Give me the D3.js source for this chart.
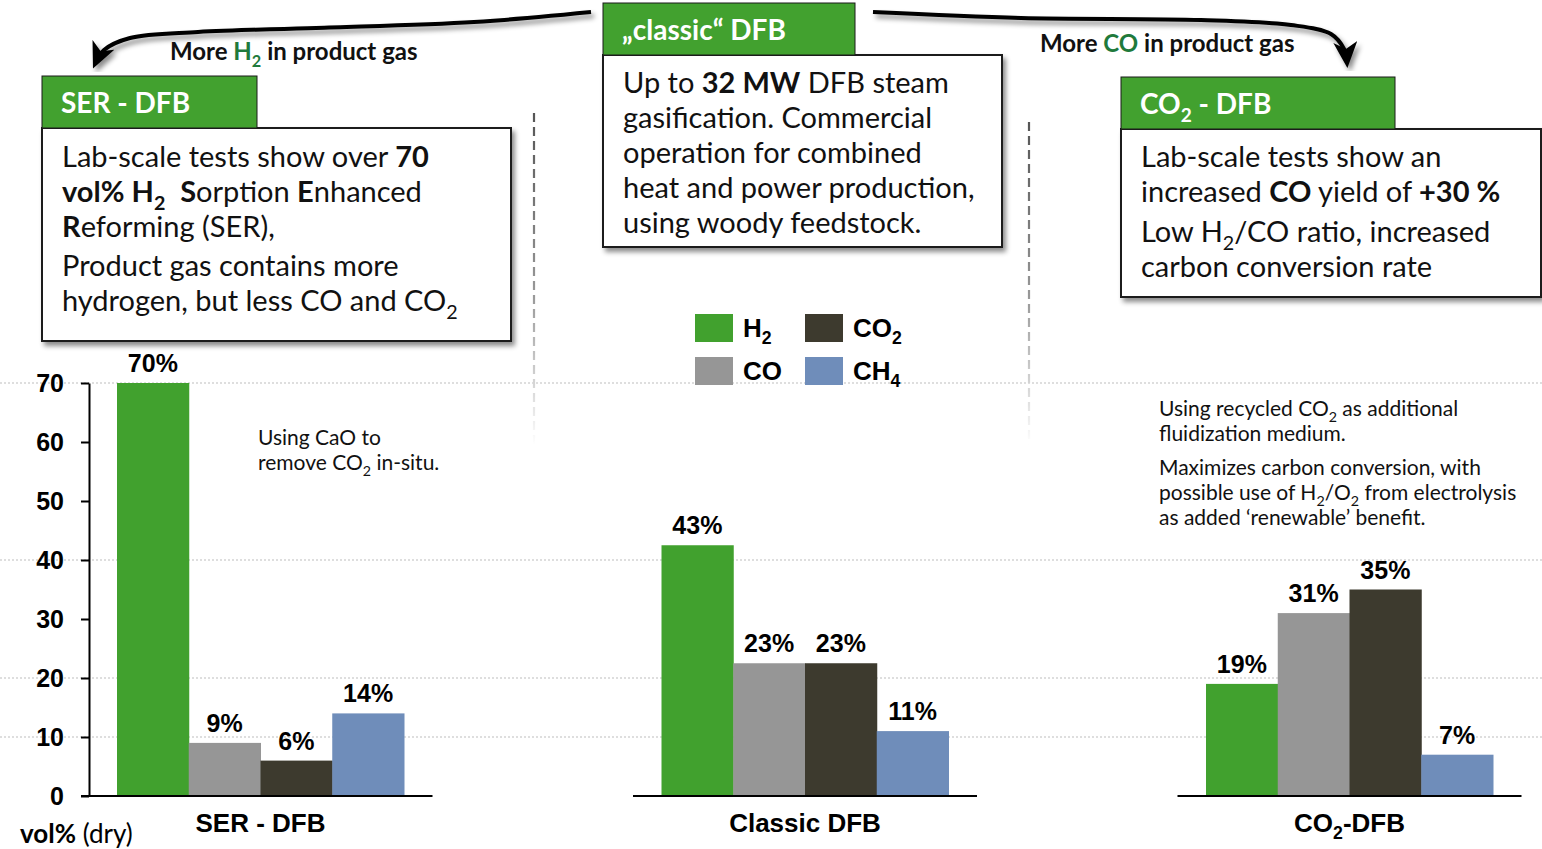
<!DOCTYPE html>
<html>
<head>
<meta charset="utf-8">
<script src="https://cdn.jsdelivr.net/npm/d3@7"></script>
<style>
body { margin: 0; background: #fff; }
svg { display: block; }
text { white-space: pre; }
</style>
</head>
<body>
<svg id="chart" width="1542" height="849"></svg>
<script>
// data
const gases = ["H2", "CO", "CO2", "CH4"];
const gasLabels = ["H_2", "CO", "CO_2", "CH_4"];
const gasColors = ["#41a12e", "#969696", "#3d3a2e", "#6f8dba"];
const processes = ["SER - DFB", "Classic DFB", "CO_2-DFB"];
const serValues = [70, 9, 6, 14];
const classicValues = [42.5, 22.5, 22.5, 11];
const co2Values = [19, 31, 35, 7];
const yTicks = [0, 10, 20, 30, 40, 50, 60, 70];
const gridValues = [10, 20, 40, 70];

const seriesByProcess = [serValues, classicValues, co2Values];

const svg = d3.select("#chart");
const W = 1542;
const sansBold = "'Liberation Sans', Arial, sans-serif";
const lato = "Lato, 'Open Sans', sans-serif";
const headerGreen = "#42a12f";

// mini markup: ** toggles bold, ~~ toggles green, _2 is a subscript
function rich(textSel, str, fs) {
    let bold = false, green = false, shift = 0;
    str.split(/(\*\*|~~|_\d)/).forEach(tok => {
        if (!tok) return;
        if (tok === "**") { bold = !bold; return; }
        if (tok === "~~") { green = !green; return; }
        const sub = /^_\d$/.test(tok);
        const ts = textSel.append("tspan").text(sub ? tok[1] : tok);
        const target = sub ? fs * 0.28 : 0;
        if (target !== shift) { ts.attr("dy", target - shift); shift = target; }
        if (sub) ts.attr("font-size", fs * 0.68);
        if (bold) ts.attr("font-weight", "bold");
        if (green) ts.attr("fill", "#1f7a3c");
    });
    return textSel;
}

const defs = svg.append("defs");
const shadow = defs.append("filter").attr("id", "shadow")
    .attr("x", "-5%").attr("y", "-5%").attr("width", "115%").attr("height", "120%");
shadow.append("feDropShadow").attr("dx", 3).attr("dy", 4)
    .attr("stdDeviation", 2.5).attr("flood-color", "#000").attr("flood-opacity", 0.45);

const fade = defs.append("linearGradient").attr("id", "fade")
    .attr("x1", 0).attr("y1", 0).attr("x2", 0).attr("y2", 1);
fade.append("stop").attr("offset", "0%").attr("stop-color", "#555");
fade.append("stop").attr("offset", "55%").attr("stop-color", "#999");
fade.append("stop").attr("offset", "100%").attr("stop-color", "#fff");

defs.append("marker").attr("id", "arrowhead")
    .attr("markerUnits", "userSpaceOnUse")
    .attr("viewBox", "0 0 26 24")
    .attr("markerWidth", 26).attr("markerHeight", 24)
    .attr("refX", 21).attr("refY", 12)
    .attr("orient", "auto")
    .append("path").attr("d", "M0,0 L26,12 L0,24 L7,12 Z").attr("fill", "#000");

// scales
const y = d3.scaleLinear().domain([0, 70]).range([796, 383]);
const x = d3.scalePoint().domain(processes).range([260.5, 1349.5]);
const xg = d3.scaleBand().domain(gases).range([-143.5, 143.5]);

// dotted gridlines
svg.append("g").selectAll("line").data(gridValues).join("line")
    .attr("x1", 0).attr("x2", W)
    .attr("y1", d => y(d)).attr("y2", d => y(d))
    .attr("stroke", "#bdbdbd").attr("stroke-width", 1)
    .attr("stroke-dasharray", "2,2");

// fading dashed separators
svg.append("g").selectAll("line").data([[534, 113], [1029, 122]]).join("line")
    .attr("x1", d => d[0]).attr("x2", d => d[0] + 0.01)
    .attr("y1", d => d[1]).attr("y2", 445)
    .attr("stroke", "url(#fade)").attr("stroke-width", 2.2)
    .attr("stroke-dasharray", "9,5");

// bars
const groups = svg.append("g").selectAll("g").data(processes).join("g")
    .attr("transform", d => `translate(${x(d)},0)`);

groups.each(function (p, i) {
    const g = d3.select(this);
    const vals = seriesByProcess[i];
    g.selectAll("rect").data(vals).join("rect")
        .attr("x", (d, j) => xg(gases[j]))
        .attr("width", xg.bandwidth() + 0.5)
        .attr("y", d => y(d))
        .attr("height", d => y(0) - y(d))
        .attr("fill", (d, j) => gasColors[j]);
    g.selectAll("text.val").data(vals).join("text")
        .attr("class", "val")
        .attr("x", (d, j) => xg(gases[j]) + xg.bandwidth() / 2)
        .attr("y", d => y(d) - 11)
        .attr("text-anchor", "middle")
        .attr("font-family", sansBold).attr("font-weight", "bold")
        .attr("font-size", 25).attr("fill", "#000")
        .text(d => Math.round(d) + "%");
    // baseline of each group
    const left = i === 0 ? 81 - x(p) : -172;
    g.append("line")
        .attr("x1", left).attr("x2", 172)
        .attr("y1", y(0)).attr("y2", y(0))
        .attr("stroke", "#000").attr("stroke-width", 2);
    rich(g.append("text")
        .attr("x", 0).attr("y", 832)
        .attr("text-anchor", "middle")
        .attr("font-family", sansBold).attr("font-weight", "bold")
        .attr("font-size", 26).attr("fill", "#000"), p, 26);
});

// y axis
const yAxis = svg.append("g")
    .attr("transform", "translate(89,0)")
    .call(d3.axisLeft(y).tickValues(yTicks).tickSize(8).tickSizeOuter(0).tickPadding(17));
yAxis.select(".domain").attr("stroke", "#000").attr("stroke-width", 2);
yAxis.selectAll(".tick line").attr("stroke", "#000").attr("stroke-width", 2);
yAxis.selectAll(".tick text")
    .attr("font-family", sansBold).attr("font-weight", "bold")
    .attr("font-size", 25).attr("fill", "#000");

rich(svg.append("text").attr("x", 20).attr("y", 843)
    .attr("font-family", lato).attr("font-size", 26).attr("fill", "#000"),
    "**vol%** (dry)", 26);

// legend
const legendPos = [[695, 314], [695, 357], [805, 314], [805, 357]];
const legend = svg.append("g").selectAll("g").data(gases).join("g")
    .attr("transform", (d, i) => `translate(${legendPos[i][0]},${legendPos[i][1]})`);
legend.append("rect").attr("width", 38).attr("height", 28)
    .attr("fill", (d, i) => gasColors[i]);
legend.each(function (d, i) {
    rich(d3.select(this).append("text").attr("x", 48).attr("y", 23)
        .attr("font-family", sansBold).attr("font-weight", "bold")
        .attr("font-size", 26).attr("fill", "#000"), gasLabels[i], 26);
});

// info boxes
const boxes = [
    { header: "SER - DFB", hx: 42, hy: 76, hw: 215, bx: 42, by: 128, bw: 469, bh: 213,
      lines: ["Lab-scale tests show over **70**",
              "**vol% H_2**  **S**orption **E**nhanced",
              "**R**eforming (SER),",
              "Product gas contains more",
              "hydrogen, but less CO and CO_2"],
      ys: [167, 202, 237, 276, 311] },
    { header: "\u201Eclassic\u201C DFB", hx: 603, hy: 3, hw: 252, bx: 603, by: 55, bw: 399, bh: 192,
      lines: ["Up to **32 MW** DFB steam",
              "gasification. Commercial",
              "operation for combined",
              "heat and power production,",
              "using woody feedstock."],
      ys: [93, 128, 163, 198, 233] },
    { header: "CO_2 - DFB", hx: 1121, hy: 77, hw: 274, bx: 1121, by: 129, bw: 420, bh: 168,
      lines: ["Lab-scale tests show an",
              "increased **CO** yield of **+30 %**",
              "Low H_2/CO ratio, increased",
              "carbon conversion rate"],
      ys: [167, 202, 242, 277] }
];

boxes.forEach(b => {
    svg.append("rect")
        .attr("x", b.bx).attr("y", b.by).attr("width", b.bw).attr("height", b.bh)
        .attr("fill", "#fff").attr("stroke", "#1a1a1a").attr("stroke-width", 2)
        .attr("filter", "url(#shadow)");
    svg.append("rect")
        .attr("x", b.hx).attr("y", b.hy).attr("width", b.hw).attr("height", b.by - b.hy)
        .attr("fill", headerGreen).attr("stroke", "#1a1a1a").attr("stroke-width", 1);
    rich(svg.append("text")
        .attr("x", b.hx + 19).attr("y", b.hy + 37)
        .attr("font-family", lato).attr("font-weight", "bold")
        .attr("font-size", 28).attr("fill", "#fff"), b.header, 28);
    b.lines.forEach((l, i) => {
        rich(svg.append("text")
            .attr("x", b.bx + 20).attr("y", b.ys[i])
            .attr("font-family", lato).attr("font-size", 29).attr("fill", "#111"), l, 29);
    });
});

// side notes
const notes = [
    { x: 258, lines: ["Using CaO to", "remove CO_2 in-situ."], ys: [445, 470] },
    { x: 1159, lines: ["Using recycled CO_2 as additional", "fluidization medium.",
                       "Maximizes carbon conversion, with",
                       "possible use of H_2/O_2 from electrolysis",
                       "as added \u2018renewable\u2019 benefit."],
      ys: [416, 441, 475, 500, 525] }
];
notes.forEach(n => n.lines.forEach((l, i) => {
    rich(svg.append("text").attr("x", n.x).attr("y", n.ys[i])
        .attr("font-family", lato).attr("font-size", 21).attr("fill", "#111"), l, 21);
}));

// curved arrows and captions
const arrowLine = d3.line().curve(d3.curveCatmullRom.alpha(0.5));
const arrows = [
    [[591, 12], [474, 22], [316, 28], [198, 32], [130, 38], [104, 50], [95, 64]],
    [[873, 12], [1021, 18], [1201, 20], [1291, 25], [1331, 34], [1344, 49], [1347, 63]]
];
svg.append("g").selectAll("path").data(arrows).join("path")
    .attr("d", d => arrowLine(d))
    .attr("fill", "none").attr("stroke", "#000").attr("stroke-width", 4)
    .attr("marker-end", "url(#arrowhead)")
    .attr("filter", "url(#shadow)");

rich(svg.append("text").attr("x", 170).attr("y", 60)
    .attr("font-family", lato).attr("font-weight", "bold").attr("font-size", 24).attr("fill", "#111"),
    "More ~~H_2~~ in product gas", 24);
rich(svg.append("text").attr("x", 1040).attr("y", 52)
    .attr("font-family", lato).attr("font-weight", "bold").attr("font-size", 24).attr("fill", "#111"),
    "More ~~CO~~ in product gas", 24);
</script>
</body>
</html>
